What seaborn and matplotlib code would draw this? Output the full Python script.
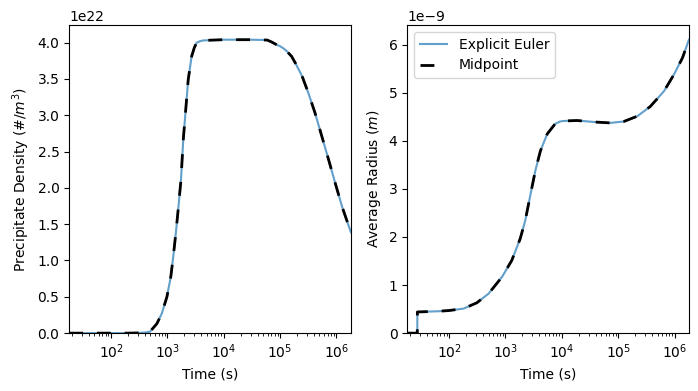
import numpy as np
import pandas as pd
import seaborn as sns
import matplotlib
matplotlib.use('Agg')
import matplotlib.pyplot as plt

# precipitate density (#/m^3)
t_density = [18, 40, 100, 200, 300, 400, 490, 650, 795, 980, 1150, 1290, 1430, 1570,
             1740, 1910, 2100, 2340, 2690, 3000, 3310, 3800, 4360, 1e4, 3e4, 5.9e4,
             7e4, 8.7e4, 1e5, 1.15e5, 1.32e5, 1.6e5, 1.86e5, 2.45e5, 3.16e5, 4.17e5,
             5.5e5, 7.24e5, 9.55e5, 1.26e6, 1.8e6]
density = [0, 0, 0, 0, 0.003, 0.008, 0.02, 0.13, 0.27, 0.50, 0.78, 1.10, 1.42, 1.74,
           2.11, 2.66, 3.05, 3.49, 3.81, 3.93, 4.00, 4.02, 4.03, 4.04, 4.04, 4.035,
           4.01, 3.97, 3.95, 3.92, 3.88, 3.81, 3.72, 3.54, 3.31, 3.03,
           2.71, 2.39, 2.06, 1.74, 1.39]
density = [v * 1e22 for v in density]

# average radius (m)
t_radius = [18, 27.2, 27.3, 65, 100, 180, 309, 500, 870, 1290, 1820, 2240, 2750,
            3390, 4170, 5500, 7590, 9300, 1.07e4, 1.86e4, 3.7e4, 7.2e4, 1.26e5,
            2.19e5, 3.7e5, 6.5e5, 9.8e5, 1.38e6, 1.8e6]
radius = [0, 0, 0.44, 0.455, 0.47, 0.51, 0.63, 0.82, 1.17, 1.51, 1.96, 2.34, 2.86,
          3.38, 3.79, 4.14, 4.35, 4.40, 4.41, 4.42, 4.39, 4.37, 4.40,
          4.51, 4.71, 5.03, 5.38, 5.72, 6.10]
radius = [v * 1e-9 for v in radius]

fig, (ax1, ax2) = plt.subplots(1, 2, figsize=(6.98, 3.91), dpi=100)
fig.subplots_adjust(left=0.099, right=0.987, bottom=0.148, top=0.936, wspace=0.2)

dash = (0, (5, 5))

sns.lineplot(x=t_density, y=density, ax=ax1, color='C0', alpha=0.7, linewidth=1.5, legend=False)
sns.lineplot(x=t_density, y=density, ax=ax1, color='k', linestyle=dash, linewidth=2, legend=False)
ax1.set_xscale('log')
ax1.set_xlim(18, 1.8e6)
ax1.set_ylim(bottom=0)
ax1.set_xlabel('Time (s)')
ax1.set_ylabel('Precipitate Density (#/$m^3$)')

sns.lineplot(x=t_radius, y=radius, ax=ax2, color='C0', alpha=0.7, linewidth=1.5,
             label='Explicit Euler', legend=False)
sns.lineplot(x=t_radius, y=radius, ax=ax2, color='k', linestyle=dash, linewidth=2,
             label='Midpoint', legend=False)
ax2.set_xscale('log')
ax2.set_xlim(18, 1.8e6)
ax2.set_ylim(bottom=0)
ax2.set_xlabel('Time (s)')
ax2.set_ylabel('Average Radius ($m$)')
ax2.legend()

fig.savefig('out.png')
